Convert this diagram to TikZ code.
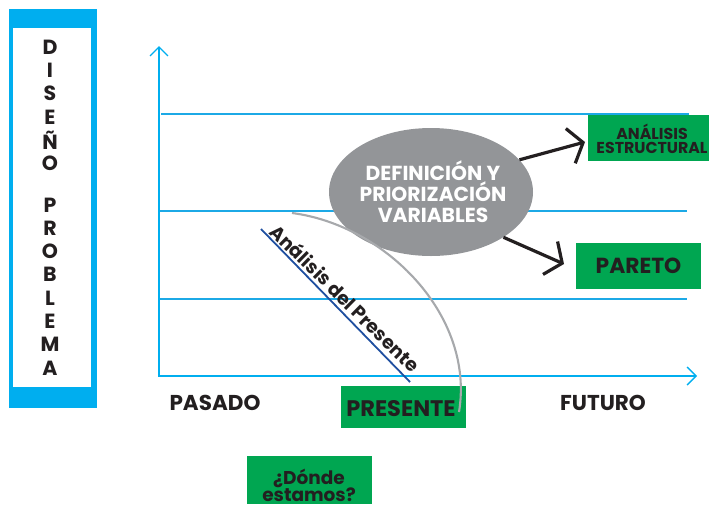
\documentclass[tikz,border=0pt]{standalone}
\usepackage{fontspec}
\setmainfont{Poppins}
\usetikzlibrary{arrows.meta,shapes.geometric}
\definecolor{cyanb}{HTML}{00AEEF}
\definecolor{gridb}{HTML}{1CA9E6}
\definecolor{greenb}{HTML}{00A651}
\definecolor{grayb}{HTML}{939598}
\definecolor{inkb}{HTML}{231F20}
\definecolor{navyb}{HTML}{1F4FA0}
\definecolor{curveb}{HTML}{A7A9AC}
\tikzset{
 axisline/.style={draw=cyanb,line width=1.4pt,{Straight Barb[length=9pt,width=18pt,line width=1.4pt]}-{Straight Barb[length=9pt,width=18pt,line width=1.4pt]}},
 gridline/.style={draw=gridb,line width=1.6pt},
 greenbox/.style={fill=greenb,draw=none,minimum width=125pt,inner sep=0pt,text=inkb,font=\bfseries,align=center},
 bigarrow/.style={draw=inkb,line width=3.2pt,-{Straight Barb[length=13pt,width=36pt,line width=3.2pt]}},
 letter/.style={text=inkb,font=\fontsize{20.5}{20.5}\selectfont\bfseries,inner sep=0pt},
 axlabel/.style={text=inkb,font=\fontsize{21.5}{21.5}\selectfont\bfseries,inner sep=0pt},
 boxtext/.style={inner sep=0pt,align=center,text=inkb},
}
\begin{document}
\begin{tikzpicture}[x=1pt,y=-1pt]
\useasboundingbox (0,0) rectangle (709,504);
% side bar
\node[fill=cyanb,minimum width=88pt,minimum height=399pt,inner sep=0pt] (bar) at (53,208.5) {};
\node[fill=white,minimum width=78pt,minimum height=359pt,inner sep=0pt] (barin) at (52,207.5) {};
\foreach \t/\y/\n in {D/47/a,I/70/b,S/93/c,E/117/d,Ñ/140/e,O/163/f,P/205/g,R/228/h,O/251/i,B/274/j,L/298/k,E/321/l,M/344/m,A/368/n}
  \node[letter] (l\n) at (50,\y) {\t};
% axes
\coordinate (top) at (159,46);
\coordinate (orig) at (159,376);
\coordinate (right) at (697,376);
\draw[axisline] (top) -- (orig) -- (right);
% grid
\coordinate (g1a) at (161,114); \coordinate (g1b) at (689,114);
\coordinate (g2a) at (160,211); \coordinate (g2b) at (687,211);
\coordinate (g3a) at (160,299); \coordinate (g3b) at (687,299);
\draw[gridline] (g1a) -- (g1b);
\draw[gridline] (g2a) -- (g2b);
\draw[gridline] (g3a) -- (g3b);
% ellipse
\node[ellipse,fill=grayb,minimum width=204pt,minimum height=128pt,inner sep=0pt] (ell) at (431,192) {};
\node[text=white,inner sep=0pt,align=center,font=\fontsize{20.3}{21}\selectfont\bfseries] (ellt) at (433,191.5) {DEFINICIÓN Y\\PRIORIZACIÓN\\VARIABLES};
% boxes
\node[greenbox,minimum width=121pt,minimum height=46pt] (ae) at (648.5,138) {};
\node[boxtext,font=\fontsize{15.8}{14.5}\selectfont\bfseries] (aet) at (652,139) {ANÁLISIS\\ESTRUCTURAL};
\node[greenbox,minimum height=46pt,font=\fontsize{21.8}{22}\selectfont\bfseries] (par) at (638.5,265.5) {PARETO};
\node[greenbox,minimum height=42pt] (pre) at (403.5,407) {};
\node[boxtext,font=\fontsize{22.5}{22}\selectfont\bfseries] (pret) at (401,408.5) {PRESENTE};
\node[greenbox,minimum height=48pt] (don) at (309.5,480) {};
\node[boxtext,font=\fontsize{18.5}{17}\selectfont\bfseries] (dont) at (309,485.5) {¿Dónde\\estamos?};
% arrows
\coordinate (aetip) at (585,142);
\coordinate (partip) at (564,264);
\draw[bigarrow] (ell.20.3) -- (aetip);
\draw[bigarrow] (ell.-32.6) -- (partip);
% labels
\node[axlabel] (pas) at (215,402.5) {PASADO};
\node[axlabel] (fut) at (603,402.5) {FUTURO};
% blue line and rotated label
\coordinate (bl1) at (261,229);
\coordinate (bl2) at (410,382);
\draw[navyb,line width=1.8pt] (bl1) -- (bl2);
\node[rotate=-44.5,text=inkb,inner sep=0pt,font=\fontsize{18.8}{18}\selectfont\bfseries] (ap) at (345.5,298) {Análisis del Presente};
% grey curve
\coordinate (c1) at (292,213);
\coordinate (c2) at (459,412);
\draw[draw=curveb,line width=2.1pt] (c1) .. controls (385,225) and (475,315) .. (c2);
\end{tikzpicture}
\end{document}
